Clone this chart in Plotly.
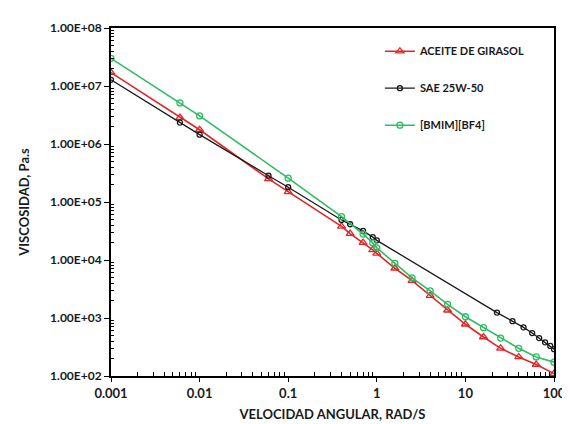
import plotly.graph_objects as go

# Aceite de girasol
x_girasol = [0.001, 0.006, 0.01, 0.06, 0.1, 0.4, 0.5, 0.7, 0.9, 1.0, 1.6, 2.5, 4, 6.3, 10, 16, 25, 40, 63, 100]
y_girasol = [1.7e7, 2.85e6, 1.76e6, 2.5e5, 1.5e5, 3.8e4, 2.85e4, 2.0e4, 1.5e4, 1.3e4, 7.2e3, 4.4e3, 2.44e3, 1.36e3, 7.8e2, 4.7e2, 3.0e2, 2.13e2, 1.58e2, 1.1e2]

# SAE 25W-50
x_sae = [0.001, 0.006, 0.01, 0.06, 0.1, 0.4, 0.5, 0.7, 0.9, 1.0, 22.7, 34, 45.3, 56.7, 68, 79.3, 90.7, 100]
y_sae = [1.28e7, 2.34e6, 1.45e6, 2.84e5, 1.8e5, 4.9e4, 4.13e4, 3.18e4, 2.48e4, 2.18e4, 1.24e3, 8.8e2, 6.9e2, 5.5e2, 4.5e2, 3.8e2, 3.3e2, 2.9e2]

# [BMIM][BF4]
x_bmim = [0.001, 0.006, 0.01, 0.1, 0.4, 0.7, 0.9, 1.0, 1.6, 2.5, 4, 6.3, 10, 16, 25, 40, 63, 100]
y_bmim = [3.0e7, 5.1e6, 3.05e6, 2.58e5, 5.6e4, 2.8e4, 1.97e4, 1.62e4, 8.75e3, 4.93e3, 2.93e3, 1.72e3, 1.05e3, 6.8e2, 4.5e2, 3.0e2, 2.13e2, 1.73e2]

names = ["ACEITE DE GIRASOL", "SAE 25W-50", "[BMIM][BF4]"]
colors = ["#e0262a", "#1a1a1a", "#2dbd63"]

x_ticks = [0.001, 0.01, 0.1, 1, 10, 100]
x_ticktext = ["0.001", "0.01", "0.1", "1", "10", "100"]
y_ticks = [1e2, 1e3, 1e4, 1e5, 1e6, 1e7, 1e8]
y_ticktext = ["1.00E+02", "1.00E+03", "1.00E+04", "1.00E+05", "1.00E+06", "1.00E+07", "1.00E+08"]

x_minor = [m * 10 ** e for e in range(-3, 2) for m in range(2, 10)]
y_minor = [m * 10 ** e for e in range(2, 8) for m in range(2, 10)]

fig = go.Figure()
fig.add_trace(go.Scatter(x=x_girasol, y=y_girasol, name=names[0], mode="lines+markers",
                         legendgroup="a",
                         line=dict(color=colors[0], width=1.6),
                         marker=dict(symbol="triangle-up-open", size=7, color=colors[0], line=dict(width=1.3))))
fig.add_trace(go.Scatter(x=x_sae, y=y_sae, name=names[1], mode="lines+markers",
                         legendgroup="b",
                         line=dict(color=colors[1], width=1.3),
                         marker=dict(symbol="circle-open", size=5, color=colors[1], line=dict(width=1.3))))
fig.add_trace(go.Scatter(x=x_bmim, y=y_bmim, name=names[2], mode="lines+markers",
                         legendgroup="c",
                         line=dict(color=colors[2], width=1.6),
                         marker=dict(symbol="circle-open", size=6, color=colors[2], line=dict(width=1.3))))

font_family = "Lato, Open Sans, sans-serif"

fig.update_layout(
    width=570, height=424,
    margin=dict(l=103, r=16, t=15, b=56),
    paper_bgcolor="white", plot_bgcolor="white",
    font=dict(family=font_family, color="#1a1a1a", size=13),
    showlegend=True,
    legend=dict(x=0.607, y=0.975, xanchor="left", yanchor="top",
                bgcolor="rgba(0,0,0,0)", tracegroupgap=18,
                font=dict(size=11, family=font_family, weight="bold"),
                itemwidth=30),
    xaxis=dict(type="log", range=[-3, 2], tickvals=x_ticks, ticktext=x_ticktext,
               showgrid=False, zeroline=False, showline=True, linecolor="black", linewidth=2,
               mirror=True, ticks="outside", ticklen=4, tickcolor="black", tickwidth=1.2,
               tickfont=dict(size=13, weight="bold"),
               minor=dict(tickvals=x_minor, ticks="inside", ticklen=4, tickcolor="black", tickwidth=1, showgrid=False),
               title=dict(text="VELOCIDAD ANGULAR, RAD/S", font=dict(size=13, weight="bold"), standoff=10)),
    yaxis=dict(type="log", range=[2, 8], tickvals=y_ticks, ticktext=y_ticktext,
               showgrid=False, zeroline=False, showline=True, linecolor="black", linewidth=2,
               mirror=True, ticks="outside", ticklen=5, tickcolor="black", tickwidth=1.2,
               tickfont=dict(size=12, weight="bold"),
               minor=dict(tickvals=y_minor, ticks="inside", ticklen=3, tickcolor="black", tickwidth=1, showgrid=False),
               title=dict(text="VISCOSIDAD, Pa.s", font=dict(size=13, weight="bold"), standoff=18)),
)

fig.write_html("out.html")
